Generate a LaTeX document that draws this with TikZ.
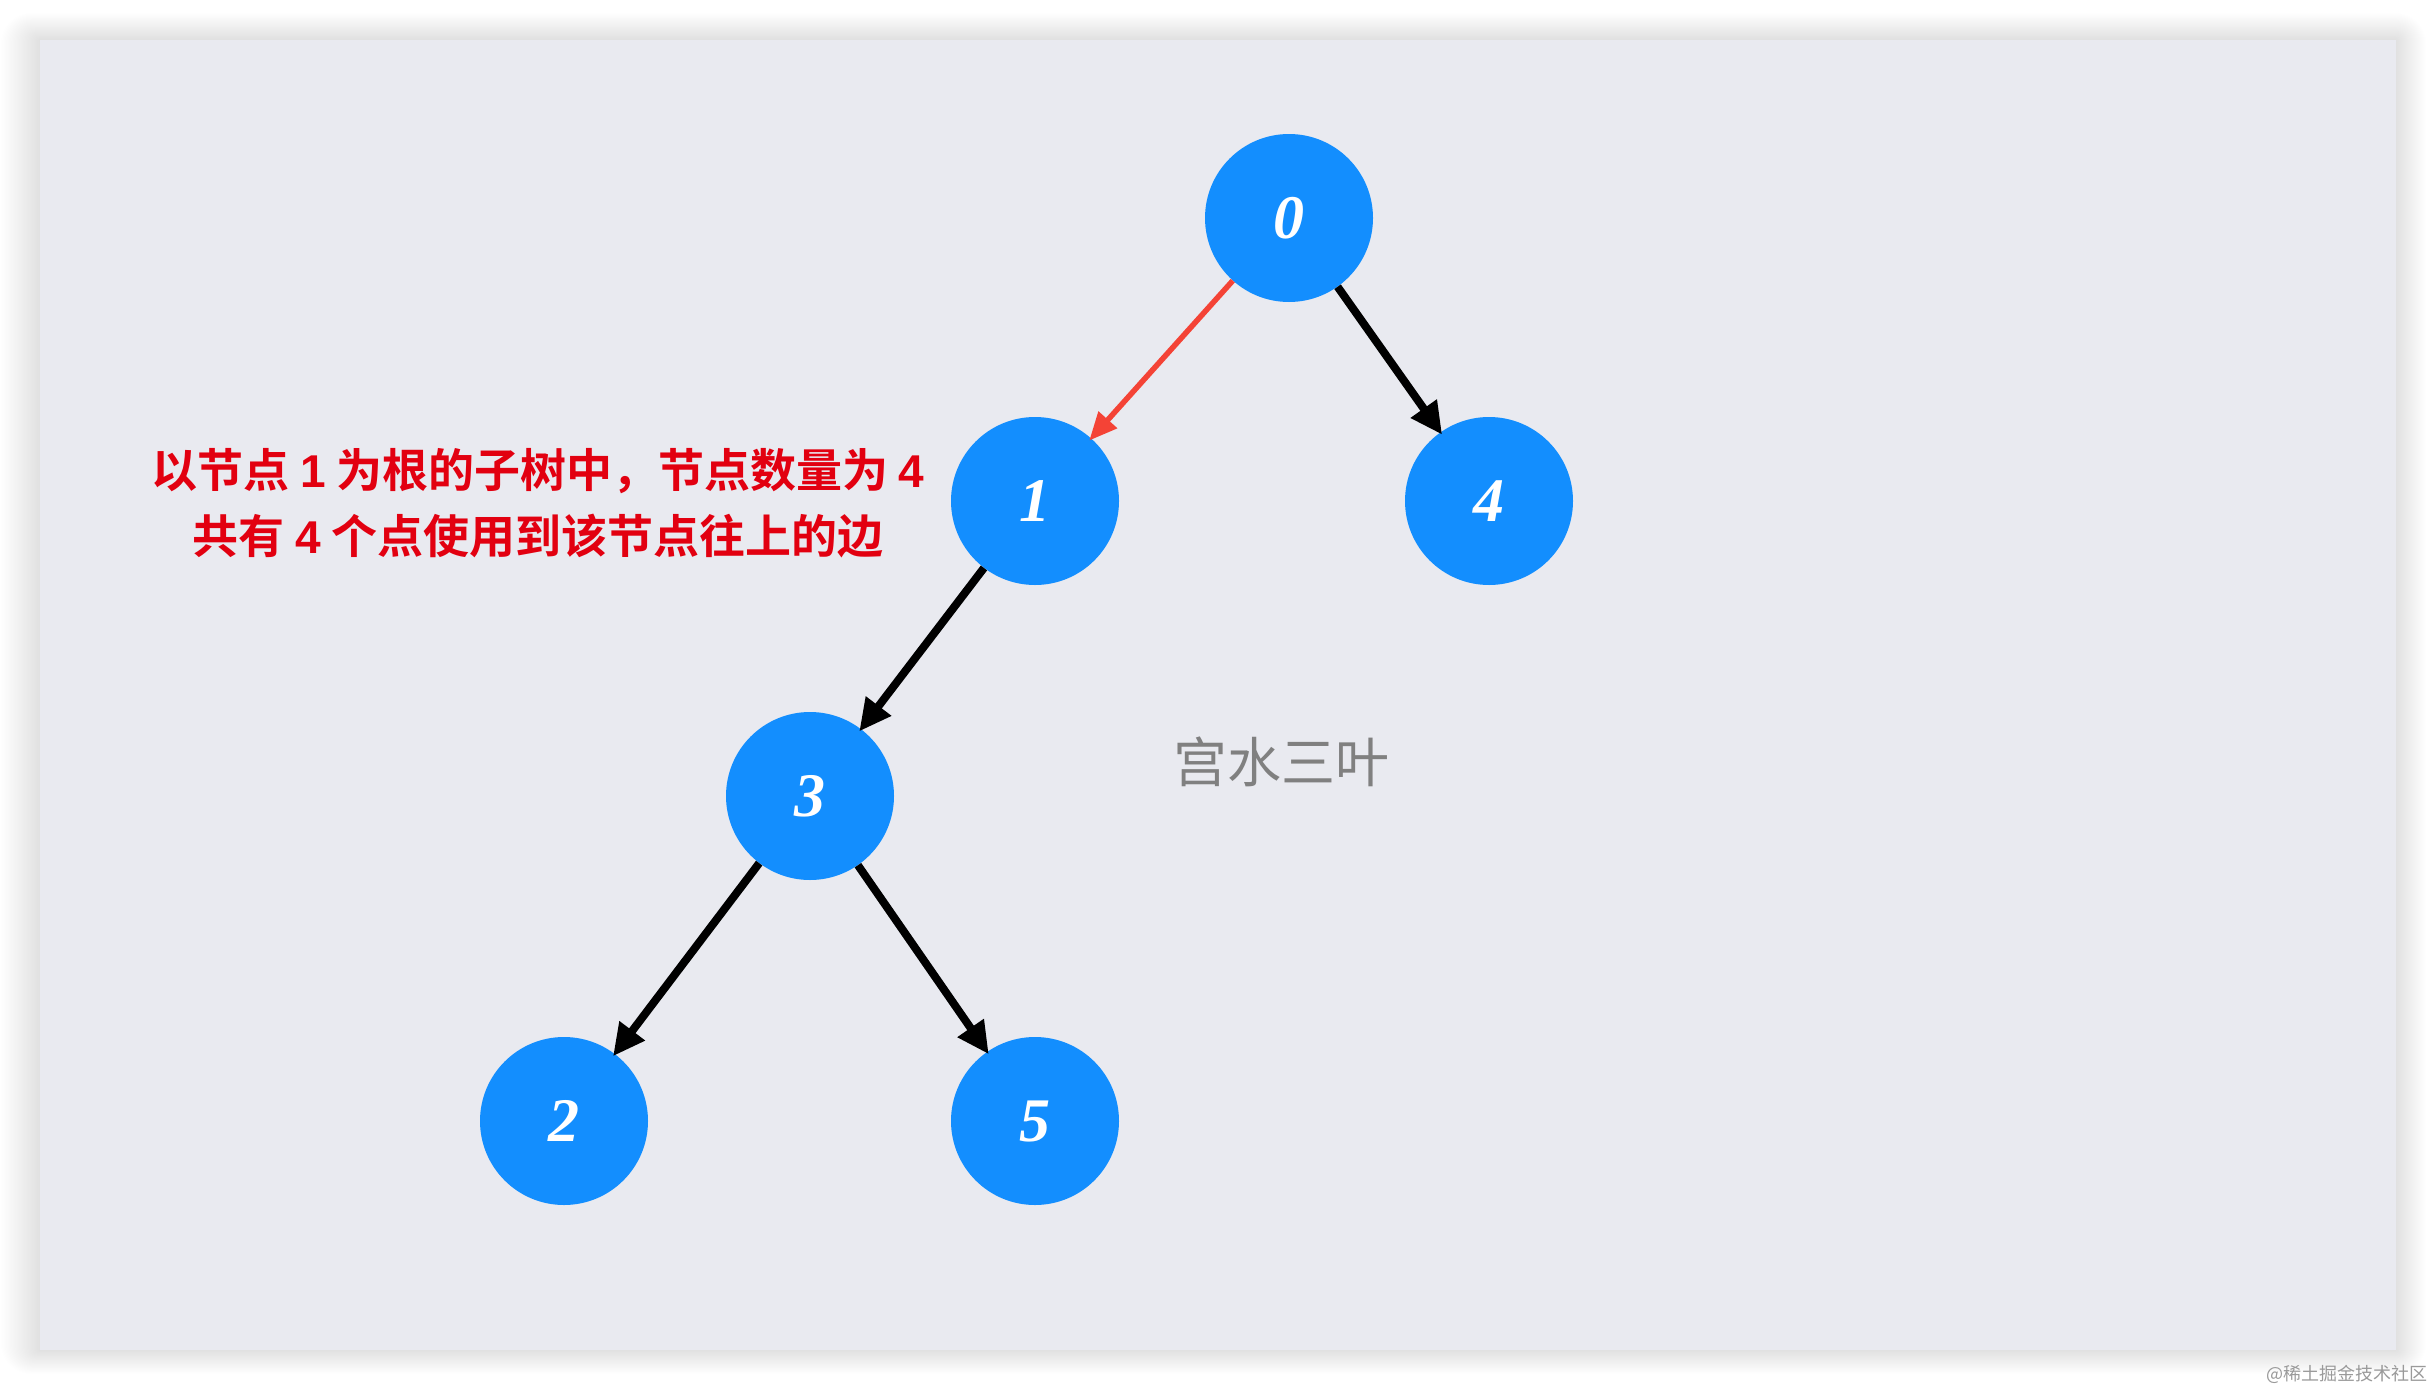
\documentclass[tikz,border=0pt]{standalone}
\usepackage{fontspec}
\setmainfont{Liberation Serif}
\newfontfamily\cjkbold{Noto Sans CJK SC}[BoldFont={* Bold}]
\newfontfamily\cjk{Noto Sans CJK SC}
\newfontfamily\lsans{Liberation Sans}
\usetikzlibrary{arrows.meta}
\definecolor{panelbg}{RGB}{233,234,240}
\definecolor{nodeblue}{RGB}{19,142,254}
\definecolor{redtxt}{RGB}{226,0,16}
\definecolor{redline}{RGB}{244,67,54}
\definecolor{wmgray}{RGB}{128,128,128}
\tikzset{
  treenode/.style={circle, fill=nodeblue, minimum size=168pt, inner sep=0pt,
    text=white, font=\fontsize{62}{62}\selectfont\bfseries\itshape},
  edgeblack/.style={draw=black, line width=8pt, -{Triangle[length=32pt,width=30pt]}, shorten >=-3pt},
  edgered/.style={draw=redline, line width=5.5pt, -{Triangle[length=28pt,width=24pt]}, shorten >=-3pt},
  note/.style={text=redtxt, font=\fontsize{46}{66}\selectfont\bfseries\cjkbold, align=center},
}
\begin{document}
\begin{tikzpicture}[x=1pt,y=-1pt]
\useasboundingbox[fill=white] (0,0) rectangle (2434,1392);
\foreach \i in {1,...,30}{
  \fill[black, opacity=0.0025, rounded corners=\i pt] (40-\i*1.3,40-\i*0.9) rectangle (2396+\i*1.0,1350+\i*0.8);
}
\fill[panelbg] (40,40) rectangle (2396,1350);
\node[treenode] (n0) at (1289,218) {0};
\node[treenode] (n1) at (1035,501) {1};
\node[treenode] (n4) at (1489,501) {4};
\node[treenode] (n3) at (810,796) {3};
\node[treenode] (n2) at (564,1121) {2};
\node[treenode] (n5) at (1035,1121) {5};
\draw[edgered] (n0) -- (n1);
\draw[edgeblack] (n0) -- (n4);
\draw[edgeblack] (n1) -- (n3);
\draw[edgeblack] (n3) -- (n2);
\draw[edgeblack] (n3) -- (n5);
\node[note] (t1) at (538,503) {以节点 {\lsans\bfseries 1} 为根的子树中，节点数量为 {\lsans\bfseries 4}\\共有 {\lsans\bfseries 4} 个点使用到该节点往上的边};
\node[text=wmgray, font=\fontsize{54}{54}\selectfont\cjk] (wm) at (1281,762) {宫水三叶};
\node[text=wmgray!80, font=\fontsize{18}{18}\selectfont\cjk] (site) at (2347,1374) {@稀土掘金技术社区};
\end{tikzpicture}
\end{document}
